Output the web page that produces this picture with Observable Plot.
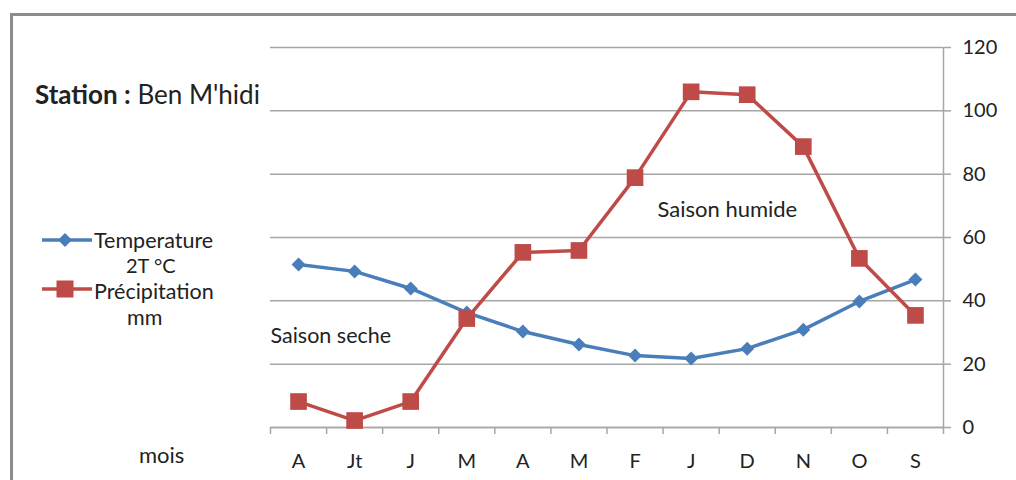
<!DOCTYPE html>
<html>
<head>
<meta charset="utf-8">
<script src="https://cdn.jsdelivr.net/npm/d3@7"></script>
<script src="https://cdn.jsdelivr.net/npm/@observablehq/plot@0.6"></script>
<style>
  html, body { margin: 0; padding: 0; background: #fff; }
  #wrap { position: relative; width: 1016px; height: 480px; overflow: hidden; font-family: Lato, "Open Sans", sans-serif; color: #222; }
  #wrap svg.plot { position: absolute; left: 0; top: 0; }
  #frame { position: absolute; left: 10px; top: 13px; width: 1100px; height: 600px; border: 3px solid #8c8c8c; box-sizing: border-box; }
  .ov { position: absolute; white-space: nowrap; font-size: 21.5px; line-height: 20px; }
</style>
</head>
<body>
<div id="wrap">
  <div id="frame"></div>
</div>
<script>
const months = ["A", "Jt", "J", "M", "A", "M", "F", "J", "D", "N", "O", "S"];
const temperature = [51.5, 49.3, 43.9, 36.3, 30.3, 26.2, 22.7, 21.8, 24.9, 30.9, 39.8, 46.7];
const precipitation = [8.2, 2.2, 8.2, 34.4, 55.3, 55.9, 78.9, 106, 105.1, 88.7, 53.4, 35.4];
const yTicks = [0, 20, 40, 60, 80, 100, 120];

const blue = "#4a7ebb";
const red = "#be4b48";
const grey = "#a6a6a6";

const idx = months.map((_, i) => i);
const boundaries = d3.range(months.length + 1);
const centers = idx.map(i => i + 0.5);

const chart = Plot.plot({
  width: 1016,
  height: 480,
  marginLeft: 270,
  marginRight: 73,
  marginTop: 47,
  marginBottom: 53,
  x: {domain: [0, months.length]},
  y: {domain: [0, 120]},
  style: {fontFamily: "Lato, 'Open Sans', sans-serif", fontSize: "20px", color: "#222", background: "transparent"},
  marks: [
    Plot.gridY(yTicks, {stroke: grey, strokeOpacity: 1, strokeWidth: 1.5}),
    Plot.ruleY([0], {stroke: grey, strokeWidth: 1.5}),
    Plot.ruleX([months.length], {stroke: grey, strokeWidth: 1.5}),
    Plot.axisY({anchor: "right", ticks: yTicks, tickSize: 7, tickPadding: 12, stroke: grey, strokeWidth: 1.5, label: null, fill: "#222"}),
    Plot.axisX({ticks: boundaries, tickSize: 7, tickFormat: () => "", stroke: grey, strokeWidth: 1.5, label: null}),
    Plot.axisX({ticks: centers, tickSize: 0, tickPadding: 26, tickFormat: d => months[Math.floor(d)], label: null, fill: "#222"}),
    Plot.text(["Saison seche"], {x: 0, y: 29, text: d => d, textAnchor: "start", fill: "#222", fontSize: 21.5}),
    Plot.text(["Saison humide"], {x: 6.9, y: 68.8, text: d => d, textAnchor: "start", fill: "#222", fontSize: 22}),
    Plot.line(idx, {x: i => i + 0.5, y: i => temperature[i], stroke: blue, strokeWidth: 3.5}),
    Plot.dot(idx, {x: i => i + 0.5, y: i => temperature[i], symbol: "diamond2", r: 6.3, fill: blue, stroke: "none"}),
    Plot.line(idx, {x: i => i + 0.5, y: i => precipitation[i], stroke: red, strokeWidth: 3.5}),
    Plot.dot(idx, {x: i => i + 0.5, y: i => precipitation[i], symbol: "square", r: 9.4, fill: red, stroke: "none"})
  ]
});
chart.classList.add("plot");
const wrap = document.getElementById("wrap");
wrap.insertBefore(chart, document.getElementById("frame"));

function ov(html, left, centerY, extra) {
  const d = document.createElement("div");
  d.className = "ov";
  d.innerHTML = html;
  d.style.left = left + "px";
  d.style.top = (centerY - 10) + "px";
  if (extra) Object.assign(d.style, extra);
  wrap.appendChild(d);
  return d;
}

ov('<b>Station :</b> Ben M\'hidi', 35, 94, {fontSize: "26px"});
ov('Temperature', 94, 239.5);
ov('2T °C', 126, 265, {fontSize: "20px"});
ov('Précipitation', 94, 290.5);
ov('mm', 127, 317);
ov('mois', 139, 455, {fontSize: "22px"});

// legend glyphs
const leg = d3.select(wrap).append("svg")
  .attr("width", 100).attr("height", 80)
  .style("position", "absolute").style("left", "30px").style("top", "220px");
leg.append("line").attr("x1", 12).attr("x2", 62).attr("y1", 20).attr("y2", 20).attr("stroke", blue).attr("stroke-width", 3.5);
leg.append("path").attr("d", d3.symbol(d3.symbolDiamond2, 125)()).attr("transform", "translate(35,20)").attr("fill", blue);
leg.append("line").attr("x1", 12).attr("x2", 62).attr("y1", 69).attr("y2", 69).attr("stroke", red).attr("stroke-width", 3.5);
leg.append("rect").attr("x", 35 - 8.5).attr("y", 69 - 8.5).attr("width", 17).attr("height", 17).attr("fill", red);
</script>
</body>
</html>
